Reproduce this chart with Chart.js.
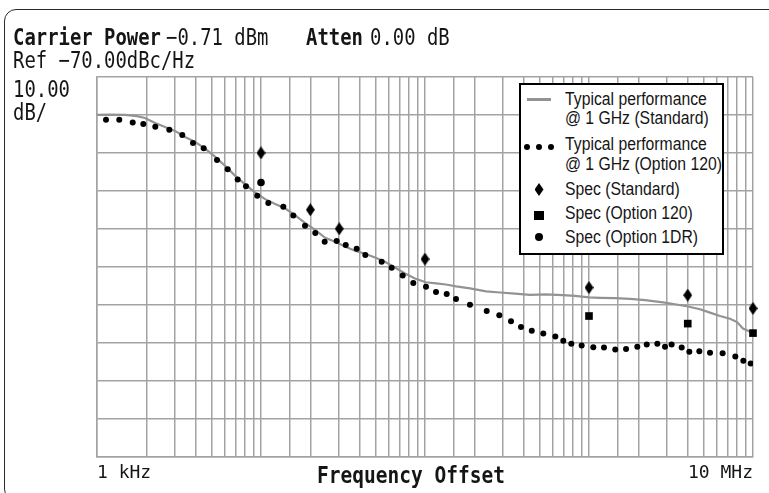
<!DOCTYPE html>
<html>
<head>
<meta charset="utf-8">
<script src="https://cdn.jsdelivr.net/npm/chart.js@4/dist/chart.umd.min.js"></script>
<style>
html,body{margin:0;padding:0;background:#fff;}
#wrap{position:relative;width:769px;height:493px;overflow:hidden;background:#fff;}
#frame{position:absolute;left:4px;top:9px;width:830px;height:492px;border:1.6px solid #2a2a2a;border-radius:12px;box-sizing:border-box;}
canvas{position:absolute;left:0;top:0;}
.hdr{position:absolute;font-family:"DejaVu Sans Mono",monospace;font-size:21px;line-height:21px;color:#151515;white-space:pre;transform:scale(0.9,1.1);transform-origin:0 0;}
.b{font-weight:bold;}
#legend{position:absolute;left:519px;top:83px;width:205px;height:172px;border:2.5px solid #000;background:#fff;box-sizing:border-box;font-family:"Liberation Sans",Arial,sans-serif;color:#151515;}
#legend .t{position:absolute;left:43.5px;font-size:17.5px;line-height:17.5px;white-space:pre;transform:scaleX(0.9);transform-origin:0 0;}
#legend .s{position:absolute;}
</style>
</head>
<body>
<div id="wrap">
  <div id="frame"></div>
  <canvas id="c" width="769" height="493"></canvas>
  <div class="hdr b" style="left:13px;top:25.5px;">Carrier Power</div>
  <div class="hdr" style="left:166px;top:25.5px;">−0.71 dBm</div>
  <div class="hdr b" style="left:306px;top:25.5px;">Atten</div>
  <div class="hdr" style="left:370px;top:25.5px;">0.00 dB</div>
  <div class="hdr" style="left:13px;top:48.5px;">Ref −70.00dBc/Hz</div>
  <div class="hdr" style="left:13px;top:77.5px;">10.00</div>
  <div class="hdr" style="left:13px;top:100.5px;">dB/</div>
  <div class="hdr b" style="left:317px;top:463.5px;transform:scale(0.93,1.1);">Frequency Offset</div>
  <div id="legend"></div>
</div>
<script>
// ---- Data (frequency offset in Hz, phase noise in dBc/Hz) ----
const stdFreq = [1000,1200,1480,1750,1960,2260,2600,2990,3440,3960,4560,5240,6030,6940,7990,9190,10600,12200,14000,16100,18600,21400,24600,28300,32500,37400,43100,49600,57000,65600,75500,86900,101000,117000,134000,155000,188000,236000,287000,354000,437000,539000,694000,821000,1000000,1170000,1440000,1780000,2200000,2830000,3340000,4020000,4750000,5470000,6290000,7240000,7990000,8690000,9320000,10000000];
const stdDb = [-80.0,-79.9,-80.0,-80.3,-80.8,-82.1,-83.2,-84.2,-85.8,-87.1,-88.9,-91.0,-93.4,-96.0,-98.3,-100.4,-102.2,-103.5,-104.6,-106.4,-108.5,-110.3,-112.4,-113.4,-114.7,-115.8,-116.6,-117.6,-118.7,-120.2,-121.8,-123.1,-124.1,-124.4,-124.7,-125.2,-125.7,-126.5,-126.8,-127.1,-127.4,-127.3,-127.5,-127.7,-128.1,-128.2,-128.3,-128.5,-128.8,-129.4,-129.9,-130.5,-131.2,-132.1,-133.0,-133.7,-134.6,-136.3,-136.9,-137.6];

const opt120Freq = [1135,1367,1651,1916,2267,2760,3312,3849,4473,5392,6266,7210,8100,9490,11080,13680,15740,18550,21430,24450,28940,32860,38320,43250,54450,62660,73100,84860,101400,116700,135600,154500,188000,237800,283800,334400,384900,447700,526400,623500,697000,780000,902000,1062000,1234000,1446000,1682000,1970000,2249000,2610000,2907000,3190000,3674000,4090000,4706000,5470000,6530000,7800000,8730000,9680000];
const opt120Db = [-81.3,-81.3,-82.0,-82.4,-83.1,-83.9,-85.3,-87.4,-88.8,-91.9,-94.3,-97.0,-98.8,-101.3,-103.2,-104.2,-106.5,-109.2,-111.1,-113.4,-113.2,-114.3,-115.3,-116.9,-118.7,-120.3,-122.3,-124.3,-125.3,-126.7,-127.2,-128.5,-130.0,-131.7,-132.8,-134.4,-135.9,-136.9,-137.6,-138.4,-139.5,-140.3,-140.8,-141.2,-141.3,-141.8,-141.7,-141.1,-140.5,-140.3,-141.1,-140.5,-141.3,-142.4,-142.3,-142.7,-142.8,-143.7,-144.8,-145.5];

const specStdFreq = [10000,20000,30000,100000,1000000,4000000,10000000];
const specStdDb = [-90,-105,-110,-118,-125.5,-127.5,-131];
const spec120Freq = [1000000,4000000,10000000];
const spec120Db = [-133,-135,-137.5];
const spec1drFreq = [10000];
const spec1drDb = [-97.8];

const xTickLabels = {3:'1 kHz', 7:'10 MHz'};
const legendLabels = ['Typical performance\n@ 1 GHz (Standard)','Typical performance\n@ 1 GHz (Option 120)','Spec (Standard)','Spec (Option 120)','Spec (Option 1DR)'];

// ---- build ----
const pts = (xs, ys) => xs.map((x, i) => ({x, y: ys[i]}));

const diamond = document.createElement('canvas');
diamond.width = 9; diamond.height = 13;
(function(){const g = diamond.getContext('2d'); g.fillStyle = '#000'; g.beginPath(); g.moveTo(4.5,0); g.lineTo(9,6.5); g.lineTo(4.5,13); g.lineTo(0,6.5); g.closePath(); g.fill();})();

const GRID = '#a3a3a3';
const chart = new Chart(document.getElementById('c'), {
  type: 'line',
  data: {
    datasets: [
      {label: legendLabels[0], data: pts(stdFreq, stdDb), borderColor: '#939393', borderWidth: 2.2, pointRadius: 0, tension: 0, order: 5},
      {label: legendLabels[1], data: pts(opt120Freq, opt120Db), showLine: false, pointStyle: 'circle', pointRadius: 3, backgroundColor: '#000', borderColor: '#000', borderWidth: 0, order: 4},
      {label: legendLabels[2], data: pts(specStdFreq, specStdDb), showLine: false, pointStyle: diamond, pointRadius: 6, order: 1, clip: false},
      {label: legendLabels[3], data: pts(spec120Freq, spec120Db), showLine: false, pointStyle: 'rect', pointRadius: 5.4, backgroundColor: '#000', borderColor: '#000', borderWidth: 0, order: 2, clip: false},
      {label: legendLabels[4], data: pts(spec1drFreq, spec1drDb), showLine: false, pointStyle: 'circle', pointRadius: 3.8, backgroundColor: '#000', borderColor: '#000', borderWidth: 0, order: 3, clip: false}
    ]
  },
  options: {
    responsive: false,
    animation: false,
    layout: {padding: {left: 97, top: 77, right: 16, bottom: 3}},
    plugins: {legend: {display: false}, tooltip: {enabled: false}},
    scales: {
      x: {
        type: 'logarithmic', min: 1000, max: 10000000,
        grid: {color: GRID, lineWidth: 1.5, drawTicks: false},
        border: {color: GRID, width: 1.5},
        ticks: {
          autoSkip: false, maxRotation: 0, minRotation: 0, align: 'inner', padding: 6,
          color: '#151515', font: {family: 'DejaVu Sans Mono', size: 18},
          callback: (v) => { const e = Math.log10(v); const r = Math.round(e); return (Math.abs(e - r) < 1e-9 && xTickLabels[r]) ? xTickLabels[r] : ''; }
        }
      },
      y: {
        min: -170, max: -70,
        grid: {color: GRID, lineWidth: 1.5, drawTicks: false},
        border: {color: GRID, width: 1.5},
        ticks: {display: false, stepSize: 10}
      }
    }
  }
});

// ---- HTML legend from the datasets ----
(function(){
  const L = document.getElementById('legend');
  const textTops = [[5.7, 25.4], [51.4, 71.4], [96.4], [119.7], [143.7]];
  chart.data.datasets.forEach((ds, i) => {
    ds.label.split('\n').forEach((line, j) => {
      const d = document.createElement('div'); d.className = 't'; d.textContent = line; d.style.top = textTops[i][j] + 'px'; L.appendChild(d);
    });
  });
  const add = (css) => { const s = document.createElement('div'); s.className = 's'; Object.assign(s.style, css); L.appendChild(s); };
  add({left: '5.5px', top: '13px', width: '24px', height: '3px', background: '#939393'});
  [6.2, 17.8, 29.5].forEach(cx => add({left: (cx - 3) + 'px', top: '59.2px', width: '6px', height: '6px', borderRadius: '50%', background: '#000'}));
  add({left: '13.5px', top: '98px', width: '9px', height: '13px', background: '#000', clipPath: 'polygon(50% 0, 100% 50%, 50% 100%, 0 50%)'});
  add({left: '13px', top: '125.7px', width: '9.5px', height: '9.5px', background: '#000'});
  add({left: '13.8px', top: '147.8px', width: '8px', height: '8px', borderRadius: '50%', background: '#000'});
})();
</script>
</body>
</html>
